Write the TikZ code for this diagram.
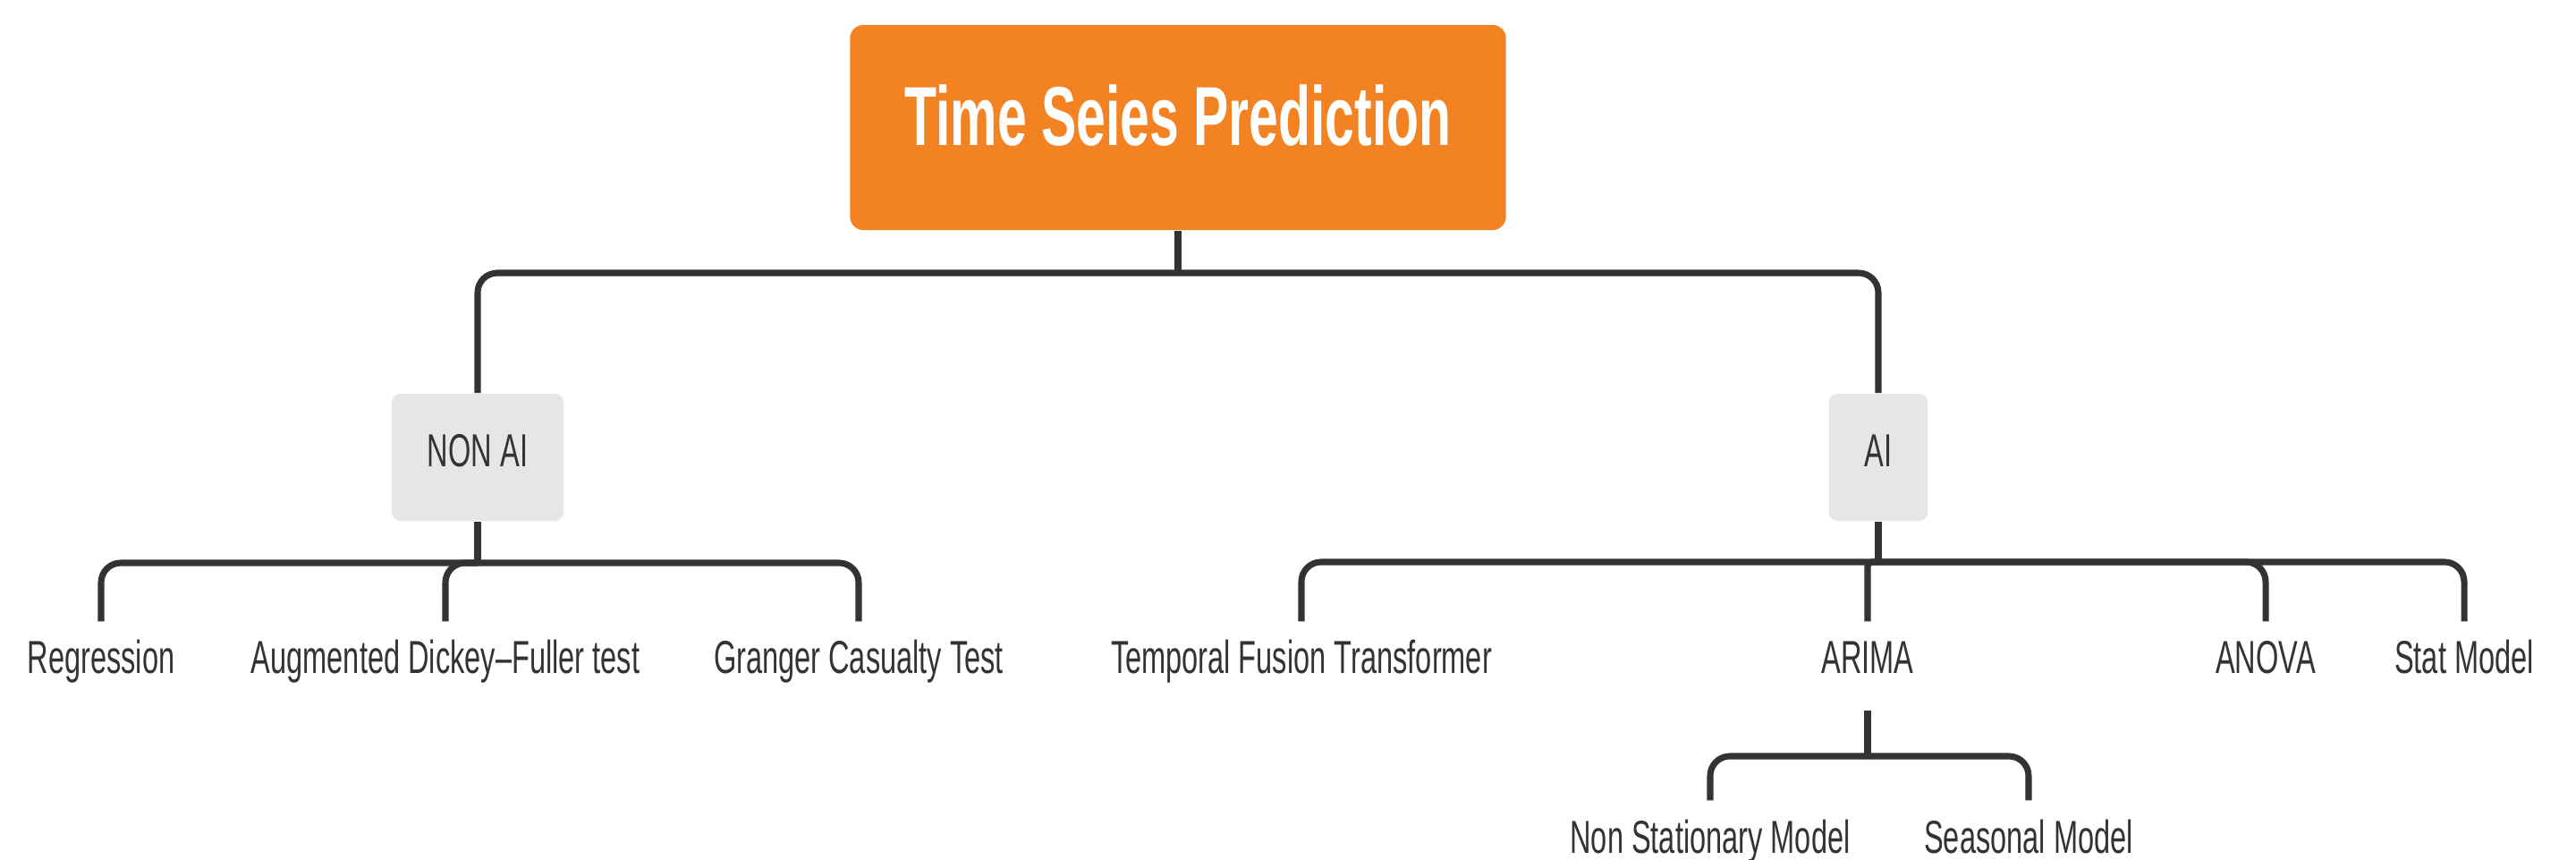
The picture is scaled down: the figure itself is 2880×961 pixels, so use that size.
\documentclass[tikz,border=0pt]{standalone}
\usepackage{fontspec}
\setmainfont{Liberation Sans}[FakeStretch=0.63]
\usetikzlibrary{calc}
\definecolor{rootorange}{HTML}{F28222}
\definecolor{boxgray}{HTML}{E6E6E6}
\definecolor{linedark}{HTML}{333333}
\definecolor{textdark}{HTML}{333333}
\begin{document}
\begin{tikzpicture}[x=0.01cm,y=-0.01cm,
 rootbox/.style={fill=rootorange, rounded corners=0.15cm, text=white, font=\fontsize{26.6}{30}\selectfont\bfseries, inner xsep=0.61cm, inner ysep=0pt, text height=1.35cm, text depth=0.94cm, anchor=base},
 catbox/.style={fill=boxgray, rounded corners=0.1cm, text=textdark, font=\fontsize{14.7}{17}\selectfont, inner xsep=0.4cm, inner ysep=0pt, text height=0.82cm, text depth=0.60cm, anchor=base},
 leaf/.style={text=textdark, font=\fontsize{14.7}{17}\selectfont, inner sep=0pt, text height=0.58cm, text depth=0.40cm, anchor=base},
 conn/.style={draw=linedark, line width=2pt},
 branch/.style={conn, rounded corners=0.22cm}]
\useasboundingbox (0,0) rectangle (2880,961);

\node[rootbox] (root) at (1317,163) {Time Seies Prediction};
\node[catbox] (nonai) at (534,522) {NON AI};
\node[catbox] (ai) at (2100,522) {AI};

\node[leaf] (reg) at (113,753) {Regression};
\node[leaf] (adf) at (498,753) {Augmented Dickey–Fuller test};
\node[leaf] (gct) at (960,753) {Granger Casualty Test};
\node[leaf] (tft) at (1455,753) {Temporal Fusion Transformer};
\node[leaf] (arima) at (2088,753) {ARIMA};
\node[leaf] (anova) at (2533,753) {ANOVA};
\node[leaf] (stat) at (2755,753) {Stat Model};
\node[leaf] (nsm) at (1912,953) {Non Stationary Model};
\node[leaf] (sm) at (2268,953) {Seasonal Model};

\coordinate (j0) at (root.south |- 0,305);
\draw[conn] (root.south) -- (j0);
\draw[branch] (j0) -| (nonai.north);
\draw[branch] (j0) -| (ai.north);

\coordinate (j1) at (nonai.south |- 0,629);
\draw[conn] (nonai.south) -- (j1);
\draw[branch] (j1) -| (reg.north);
\draw[branch] (j1) -| (adf.north);
\draw[branch] (j1) -| (gct.north);

\coordinate (j2) at (ai.south |- 0,628);
\draw[conn] (ai.south) -- (j2);
\draw[branch] (j2) -| (tft.north);
\draw[branch, rounded corners=0.05cm] (j2) -| (arima.north);
\draw[branch] (j2) -| (anova.north);
\draw[branch] (j2) -| (stat.north);

\coordinate (j3) at (arima.south |- 0,845);
\draw[conn] (arima.south) -- (j3);
\draw[branch] (j3) -| (nsm.north);
\draw[branch] (j3) -| (sm.north);
\end{tikzpicture}
\end{document}
